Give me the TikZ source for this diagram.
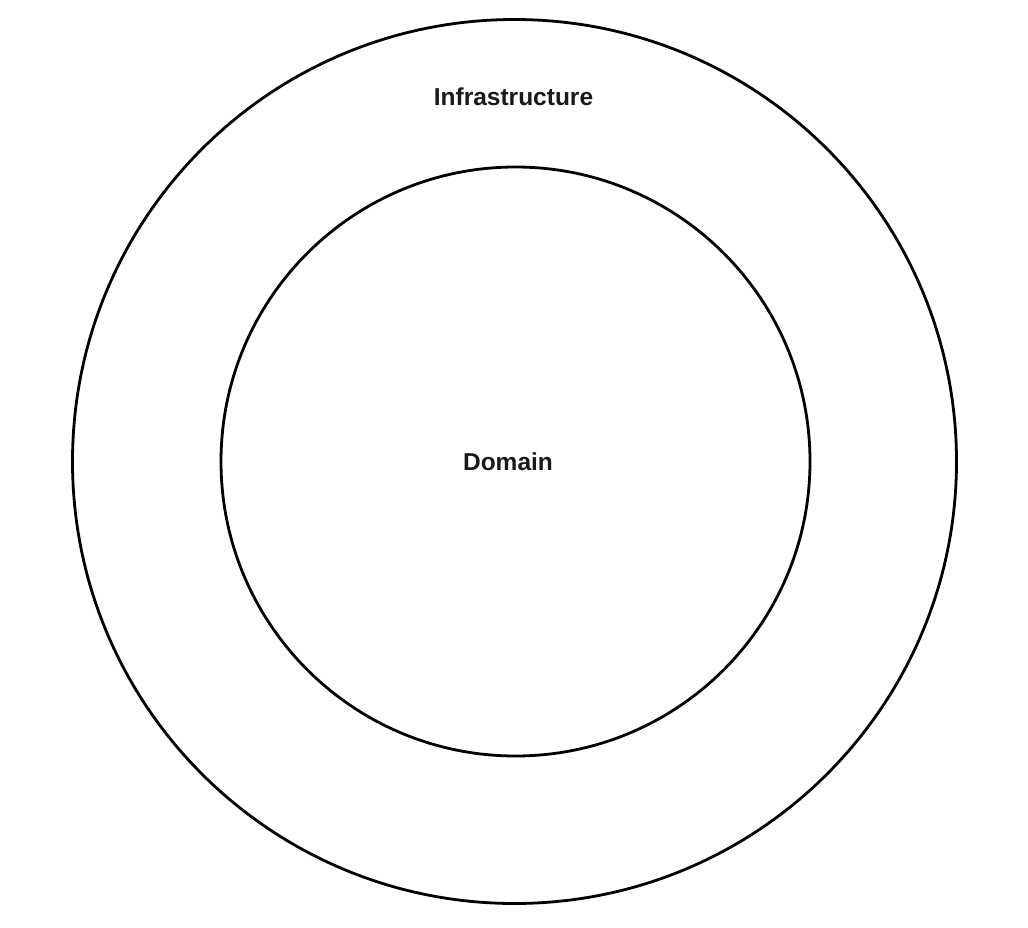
\documentclass[tikz,border=0pt]{standalone}
\usepackage{fontspec}
\setmainfont{Liberation Sans}
\begin{document}
\begin{tikzpicture}[x=1pt,y=-1pt,
  ring/.style={draw=black,line width=2.8pt,circle,minimum size=#1,inner sep=0pt},
  lbl/.style={font=\fontsize{24.5}{28}\selectfont\bfseries,text=black!90}]
\useasboundingbox (0,0) rectangle (1028,928);
\node[ring=884pt] (outer) at (514.5,461.5) {};
\node[ring=589pt] (inner) at (515.5,461.5) {};
\node[lbl] (infra) at (513.5,97) {Infrastructure};
\node[lbl] (domain) at (508,462) {Domain};
\end{tikzpicture}
\end{document}
